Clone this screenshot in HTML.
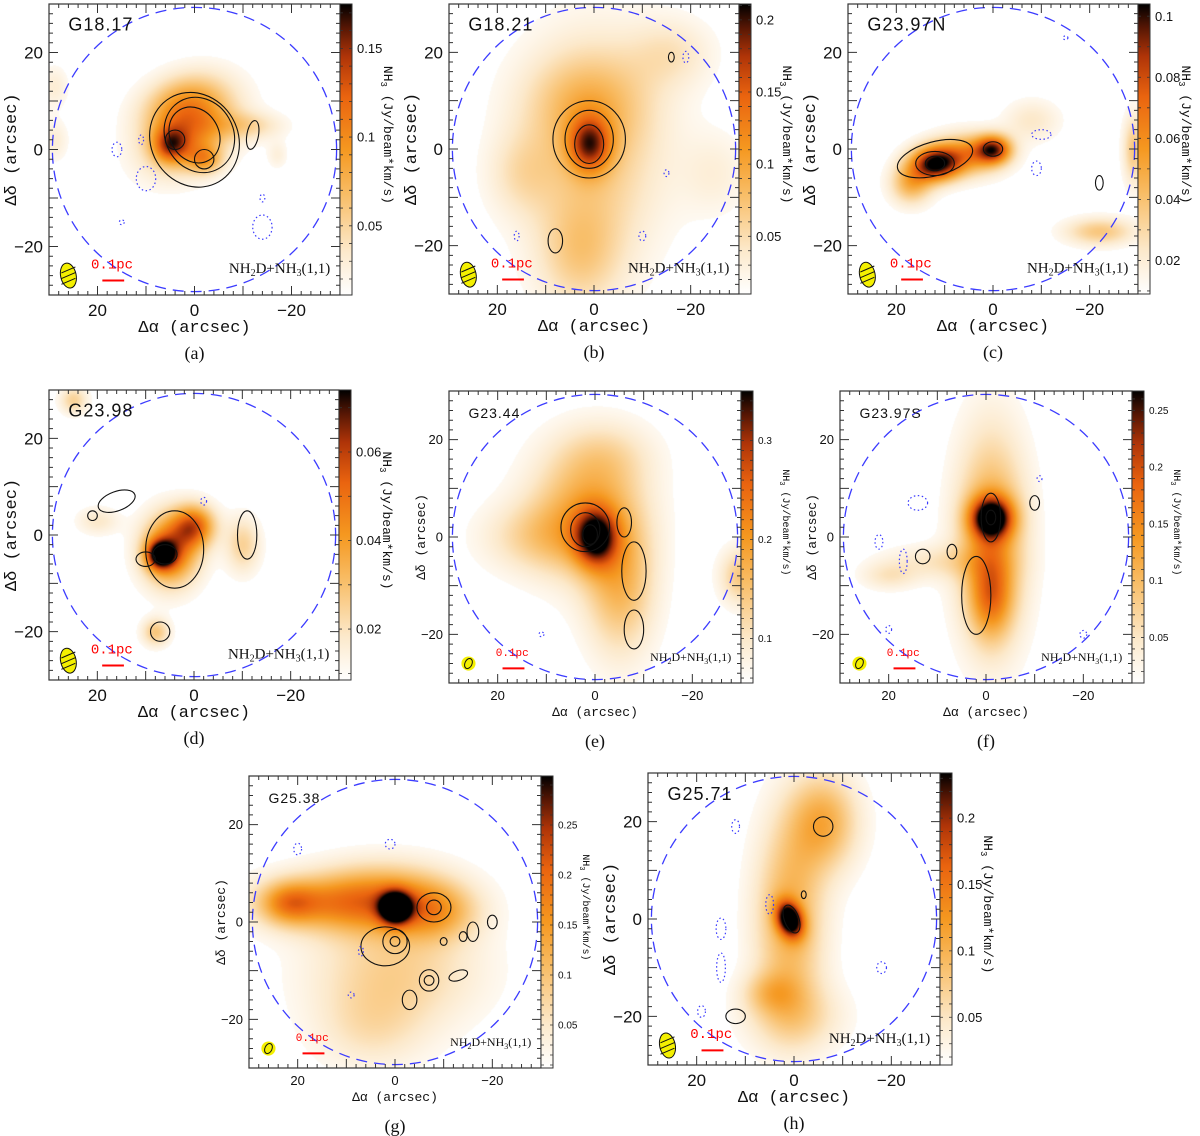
<!DOCTYPE html>
<html><head><meta charset="utf-8">
<style>
html,body{margin:0;padding:0;background:#fff;}
#wrap{position:relative;width:1200px;height:1136px;overflow:hidden;font-family:"Liberation Serif",serif;}
canvas{position:absolute;}
svg{position:absolute;left:0;top:0;}
</style></head>
<body>
<div id="wrap">
<svg id="fig" width="1200" height="1136"></svg>
</div>
<script>
// ---- data (arcsec, fractions of colour scale) ----
const panelIds = ['a','b','c','d','e','f','g','h'];
const sourceNames = ['G18.17','G18.21','G23.97N','G23.98','G23.44','G23.97S','G25.38','G25.71'];
const cbarMin = [0.011,0.010,0.009,0.0085,0.055,0.010,0.007,0.014];
const cbarMax = [0.175,0.211,0.104,0.074,0.350,0.267,0.299,0.234];
const cbarTicks = [[0.05,0.1,0.15],[0.05,0.1,0.15,0.2],[0.02,0.04,0.06,0.08,0.1],[0.02,0.04,0.06],[0.1,0.2,0.3],[0.05,0.1,0.15,0.2,0.25],[0.05,0.1,0.15,0.2,0.25],[0.05,0.1,0.15,0.2]];
const xTickLabels = ['20','0','\u221220'];
const xTickValues = [20,0,-20];
// blobs: [x, y, sx, sy, angleDeg, amp]
const blobsA = [[1,4,7,5,-35,0.55],[5,1,2.5,2.5,0,0.5],[-2,-2,2.5,2,0,0.35],[-11,5,5,2,0,0.2],[3,10,6,4,-20,0.3],[29,13,2,3,0,0.12],[29,2,2,3,0,0.12],[-17,-1,1.5,2,0,0.1]];
const blobsB = [[1,1,3,4,0,0.6],[0,0,10,16,0,0.28],[2,10,9,7,0,0.2],[-16,20,6,5,0,0.15],[15,-5,5,6,0,0.15],[3,-22,6,8,0,0.22],[-25,-5,5,6,0,0.1]];
const blobsC = [[12,-3,3.5,2.5,0,0.9],[5,-1,5,3,0,0.5],[0,0,2.5,2,0,0.7],[-8,6,4,3,0,0.15],[-29,0,1.5,5,0,0.3],[-22,-17,5,2,0,0.3],[17,-7,3,3,0,0.4]];
const blobsD = [[5,-3,4,5,0,0.7],[7,-4,2,2,0,0.8],[0,2,3,3,0,0.6],[-10,-2,2.5,4,0,0.25],[8,-20,2,2,0,0.3],[20,3,3,2,0,0.15],[25,28,2,2,0,0.25]];
const blobsE = [[2,5,8,9,0,0.4],[0,0,3,4,0,0.7],[-5,-10,5,10,0,0.35],[12,0,8,5,0,0.2],[-30,-8,3,4,0,0.3],[-2,17,7,5,0,0.15]];
const blobsF = [[-1,4,3,3,0,0.9],[-1,0,5,15,0,0.45],[-1,-12,3,6,0,0.4],[10,-5,8,2.5,0,0.15],[20,-8,4,2,0,0.15]];
const blobsG = [[0,3,2.2,2.2,0,1.0],[2,5,10,5,0,0.45],[15,4,10,4,0,0.35],[22,4,4,3,0,0.35],[-8,2,6,4,0,0.3],[0,-10,12,8,0,0.25],[5,-22,8,6,0,0.15]];
const blobsH = [[1,0,1.8,2.6,-20,0.9],[1,0,5,14,0,0.4],[-6,20,5,7,0,0.4],[0,-20,7,5,0,0.2],[5,-15,4,3,0,0.2]];
// solid contours: [x, y, rx, ry, angleDeg]
const contA = [[0,2,9,10,-30],[-1,3,7,8,-30],[0,3,5,6,-30],[4,2,2,2,0],[-2,-2,2,2,0],[-12,3,1.2,3,10]];
const contB = [[1,2,7.5,8,0],[1,2,5,6,0],[1,1,3,4,0],[8,-19,1.5,2.5,0],[-16,19,0.6,1,0]];
const contC = [[12,-2,8,3.5,-15],[12,-3,4,2.5,0],[12,-3,2,1.5,0],[0,0,2,1.5,0],[-22,-7,0.8,1.5,0]];
const contD = [[4,-3,6,8,0],[6,-4,2.5,2,0],[-11,0,2,5,0],[10,-5,2,1.5,0],[16,7,4,2,-20],[21,4,1,1,0],[7,-20,2,2,0]];
const contE = [[2,2,5,5,0],[2,1.5,3,3.5,0],[1,0.5,1.5,2,0],[-8,-7,2.5,6,0],[-6,3,1.5,3,0],[-8,-19,2,4,0]];
const contF = [[-1,4,2,5,0],[-1,4,1,1.5,0],[2,-12,3,8,0],[-10,7,1,1.5,0],[7,-3,1,1.5,0],[13,-4,1.5,1.5,0]];
const contG = [[-8,3,3.5,3,0],[-8,3,1.5,1.5,0],[2,-5,5,4,0],[0,-4,2.5,2.5,0],[0,-4,1,1,0],[-7,-12,2,2.2,0],[-7,-12,1,1,0],[-3,-16,1.5,2,0],[-13,-11,2,1,-20],[-10,-4,0.7,0.8,0],[-14,-3,0.8,1,0],[-16,-2,1.2,2,0],[-20,0,1,1.4,0]];
const contH = [[0.5,0,1.5,3,-20],[-6,19,2,2,0],[-2,5,0.5,0.8,0],[12,-20,2,1.5,0]];
// dotted (negative) contours
const dotA = [[16,0,1,1.5],[10,-6,2,2.5],[-14,-16,2,2.5],[-14,-10,0.5,0.8],[15,-15,0.5,0.5],[11,2,0.5,1]];
const dotB = [[16,-18,0.5,1],[-10,-18,0.7,1],[-15,-5,0.5,0.7],[-19,19,0.6,1.2]];
const dotC = [[-9,-4,1,1.5],[-10,3,2,1],[-15,23,0.5,0.4]];
const dotD = [[-2,7,0.6,0.8]];
const dotE = [[11,-20,0.5,0.5]];
const dotF = [[14,7,2,1.5],[-11,12,0.5,0.6],[22,-1,0.8,1.5],[17,-5,0.8,2.5],[20,-19,0.6,0.8],[-20,-20,0.7,0.8]];
const dotG = [[20,15,0.8,1.2],[1,16,1,1],[7,-6,0.5,1],[9,-15,0.6,0.6]];
const dotH = [[12,19,0.8,1.4],[15,-2,1,2.2],[15,-10,0.9,3],[5,3,0.8,2],[-18,-10,1,1.2],[19,-19,0.8,1.2]];

const blobsAll=[blobsA,blobsB,blobsC,blobsD,blobsE,blobsF,blobsG,blobsH];
const contAll=[contA,contB,contC,contD,contE,contF,contG,contH];
const dotAll=[dotA,dotB,dotC,dotD,dotE,dotF,dotG,dotH];
// layout: [left, top, size, small]
const layout=[[49,4,291,0],[449,4,290,0],[848,4,290,0],[49,390,290,0],[449,391,292,1],[840,391,292,1],[249,776,292,1],[648,773,292,0]];

const svg=document.getElementById('fig');
const NS='http://www.w3.org/2000/svg';
function mk(tag,attrs,parent){const e=document.createElementNS(NS,tag);for(const k in attrs)e.setAttribute(k,attrs[k]);(parent||svg).appendChild(e);return e;}
const stops=[[0,[255,255,255]],[0.15,[252,233,203]],[0.35,[248,188,100]],[0.5,[245,152,32]],[0.68,[234,100,15]],[0.82,[175,52,8]],[0.92,[85,22,4]],[1,[0,0,0]]];
function cmap(t){t=Math.max(0,Math.min(1,t));for(let i=1;i<stops.length;i++){if(t<=stops[i][0]){const a=stops[i-1],b=stops[i];const f=(t-a[0])/(b[0]-a[0]);return [0,1,2].map(k=>Math.round(a[1][k]+(b[1][k]-a[1][k])*f));}}return [0,0,0];}

const wrap=document.getElementById('wrap');
panelIds.forEach((pid,i)=>{
  const [L,T,S,small]=layout[i];
  const sc=S/60, cx=L+S/2, cy=T+S/2;
  const X=v=>cx-v*sc, Y=v=>cy-v*sc;
  const g=mk('g',{});
  
  
  // heatmap
  const cv=document.createElement('canvas');cv.width=S;cv.height=S;cv.style.left=L+'px';cv.style.top=T+'px';
  
  
  wrap.insertBefore(cv,svg);
  const ctx=cv.getContext('2d');const img=ctx.createImageData(S,S);
  const bl=blobsAll[i].map(b=>{const a=b[4]*Math.PI/180;return [b[0],b[1],b[2],b[3],Math.cos(a),Math.sin(a),b[5]];});
  for(let py=0;py<S;py++)for(let px=0;px<S;px++){
    const ax=(cx-(L+px))/sc, ay=(cy-(T+py))/sc;let v=0;
    for(const b of bl){const dx=ax-b[0],dy=ay-b[1];const u=dx*b[4]+dy*b[5],w=-dx*b[5]+dy*b[4];v+=b[6]*Math.exp(-0.5*(u*u/(b[2]*b[2])+w*w/(b[3]*b[3])));}
    if(v<0.04)v=0;const c=cmap(v);const o=(py*S+px)*4;img.data[o]=c[0];img.data[o+1]=c[1];img.data[o+2]=c[2];img.data[o+3]=255;}
  ctx.putImageData(img,0,0);
  // dashed circle
  const circ=mk('circle',{cx:X(0),cy:Y(0),r:29.3*sc,fill:'none',stroke:'#3b3bff','stroke-width':1.3,'stroke-dasharray':'11 7'},g);
  
  
  contAll[i].forEach(c=>{const e=mk('ellipse',{cx:X(c[0]),cy:Y(c[1]),rx:c[2]*sc,ry:c[3]*sc,transform:`rotate(${c[4]} ${X(c[0])} ${Y(c[1])})`,fill:'none',stroke:'#111','stroke-width':1.1},g);
    
    });
  dotAll[i].forEach(c=>{const e=mk('ellipse',{cx:X(c[0]),cy:Y(c[1]),rx:c[2]*sc,ry:c[3]*sc,fill:'none',stroke:'#3b3bff','stroke-width':1.2,'stroke-dasharray':'1.5 2.5'},g);
    
    });
  // beam
  const bx=X(26),by=Y(-26);
  const beam=mk('g',{},g);
  
  
  if(small){const r=1.45*sc;mk('circle',{cx:bx,cy:by,r:r,fill:'#f4f000'},beam);mk('ellipse',{cx:bx,cy:by,rx:r*0.5,ry:r*0.75,transform:`rotate(25 ${bx} ${by})`,fill:'none',stroke:'#111','stroke-width':1},beam);}
  else{const brx=1.6*sc,bry=2.6*sc;mk('ellipse',{cx:bx,cy:by,rx:brx,ry:bry,transform:`rotate(-12 ${bx} ${by})`,fill:'#f4f000',stroke:'#111','stroke-width':1},beam);
    for(let k=-1;k<=1;k++)mk('line',{x1:bx-brx*0.9,y1:by+k*bry*0.45+3,x2:bx+brx*0.9,y2:by+k*bry*0.45-3,stroke:'#111','stroke-width':1},beam);}
  // scale bar
  const sb=mk('text',{x:X(17),y:Y(-24.5),'text-anchor':'middle','font-size':small?11:14,fill:'#f00','font-family':'Liberation Mono, monospace'},g);sb.textContent='0.1pc';
  
  
  const sbl=mk('line',{x1:X(19),y1:Y(-27),x2:X(14.5),y2:Y(-27),stroke:'#f00','stroke-width':2},g);
  
  
  // line label
  const ll=mk('text',{x:X(-28),y:Y(-25.5),'text-anchor':'end','font-size':small?12:15,fill:'#111'},g);
  ll.innerHTML='NH<tspan dy="3" font-size="'+(small?8:10)+'">2</tspan><tspan dy="-3">D+NH</tspan><tspan dy="3" font-size="'+(small?8:10)+'">3</tspan><tspan dy="-3">(1,1)</tspan>';
  
  
  const sn=mk('text',{x:X(26),y:Y(24.5),'font-size':small?14:18,fill:'#111','font-family':'Liberation Sans, sans-serif','letter-spacing':'1'},g);sn.textContent=sourceNames[i];
  
  
  // frame & ticks
  const fr=mk('rect',{x:L,y:T,width:S,height:S,fill:'none',stroke:'#333','stroke-width':1.2},g);
  
  
  let tp='';
  for(let v=-30;v<=30;v+=2){const maj=v%10===0,len=maj?9:4;
    tp+=`M${X(v)} ${T+S}v${-len}M${X(v)} ${T}v${len}M${L} ${Y(v)}h${len}M${L+S} ${Y(v)}h${-len}`;}
  mk('path',{d:tp,stroke:'#333','stroke-width':1,fill:'none'},g);
  const fs=small?13:17;
  xTickValues.forEach((v,k)=>{const t=mk('text',{x:X(v),y:T+S+(small?17:21),'text-anchor':'middle','font-size':fs,fill:'#111','font-family':'Liberation Sans, sans-serif'},g);t.textContent=xTickLabels[k];
    
    
    const t2=mk('text',{x:L-6,y:Y(v)+fs*0.35,'text-anchor':'end','font-size':fs,fill:'#111','font-family':'Liberation Sans, sans-serif'},g);t2.textContent=xTickLabels[k];
    
    });
  const xt=mk('text',{x:cx,y:T+S+(small?33:37),'text-anchor':'middle','font-size':fs,fill:'#111','font-family':'Liberation Mono, monospace'},g);xt.textContent='\u0394\u03b1 (arcsec)';
  
  
  const yx=L-(small?24:33);
  const yt=mk('text',{x:yx,y:cy,'text-anchor':'middle','font-size':fs,fill:'#111','font-family':'Liberation Mono, monospace',transform:`rotate(-90 ${yx} ${cy})`},g);yt.textContent='\u0394\u03b4 (arcsec)';
  
  
  // colorbar
  const cbw=12, cbx=L+S;
  const gid='cb'+pid;const defs=mk('defs',{},g);const lg=mk('linearGradient',{id:gid,x1:0,y1:1,x2:0,y2:0},defs);
  stops.forEach(s=>mk('stop',{offset:s[0],'stop-color':`rgb(${s[1].join(',')})`},lg));
  const cb=mk('rect',{x:cbx,y:T,width:cbw,height:S,fill:`url(#${gid})`,stroke:'#333','stroke-width':1},g);
  
  
  const CY=v=>T+S-(v-cbarMin[i])/(cbarMax[i]-cbarMin[i])*S;
  let ct='';for(let v=0;v<=cbarMax[i];v+=0.01){const yy=CY(v);if(yy>=T&&yy<=T+S)ct+=`M${cbx} ${yy}h3M${cbx+cbw} ${yy}h-3`;}
  mk('path',{d:ct,stroke:'#333','stroke-width':0.8},g);
  const cfs=small?10:13;
  cbarTicks[i].forEach(v=>{const t=mk('text',{x:cbx+cbw+5,y:CY(v)+cfs*0.35,'font-size':cfs,fill:'#111','font-family':'Liberation Sans, sans-serif'},g);t.textContent=String(v);
    
    });
  const lx=cbx+cbw+(small?30:32);
  const ct2=mk('text',{x:lx,y:T+S*0.45,'text-anchor':'middle','font-size':small?10:13,fill:'#111','font-family':'Liberation Mono, monospace',transform:`rotate(90 ${lx} ${T+S*0.45})`},g);
  ct2.innerHTML='NH<tspan dy="3" font-size="'+(small?7:9)+'">3</tspan><tspan dy="-3"> (Jy/beam*km/s)</tspan>';
  
  
  // caption
  const cap=mk('text',{x:cx,y:T+S+64,'text-anchor':'middle','font-size':18,fill:'#111'},g);cap.textContent='('+pid+')';
  
  
});
</script>
</body></html>
